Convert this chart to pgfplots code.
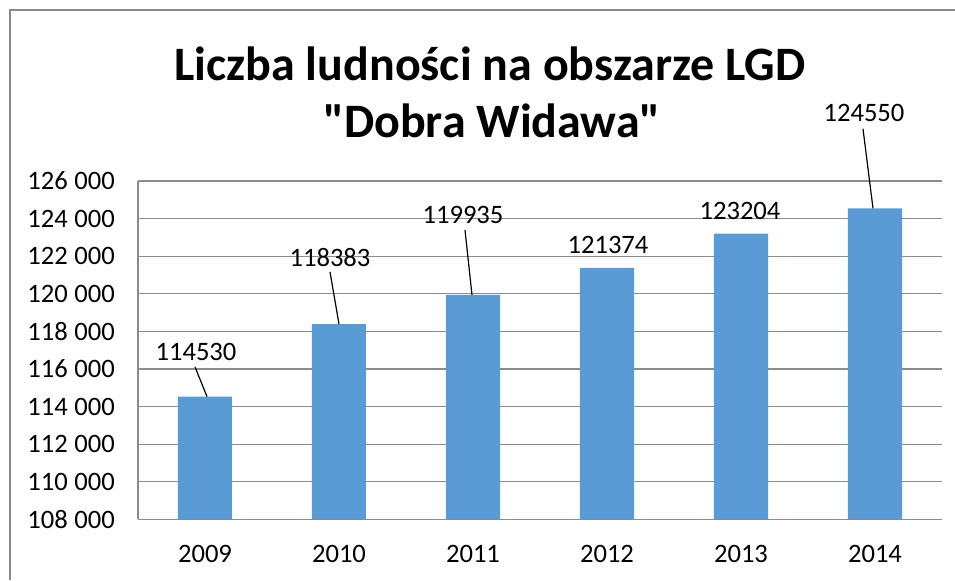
\documentclass[border=0pt]{standalone}
\usepackage{pgfplots}
\pgfplotsset{compat=1.18}
\usepackage{pgfplotstable}
\usepackage{fontspec}
\setmainfont{Carlito}
\definecolor{barblue}{HTML}{5B9BD5}
\definecolor{gridgray}{HTML}{8C8C8C}
\definecolor{framegray}{HTML}{8A8A8A}

\pgfplotstableread{
x y dx dy label
0 114530 -4.5 22.35 114530
1 118383 -4.5 33.15 118383
2 119935 -5.0 40.00 119935
3 121374 0.5 11.5 121374
4 123204 -0.5 11.5 123204
5 124550 -5.5 47.75 124550
}\datatable

\begin{document}
\begin{tikzpicture}
\useasboundingbox (0,0) rectangle (477.5pt,290pt);
\draw[framegray, line width=0.9pt] (5pt,0pt) -- (5pt,285pt) -- (477.5pt,285pt);
\node[anchor=base, font=\fontsize{24}{28}\selectfont\bfseries\addfontfeatures{Ligatures=TeXOff}] at (245pt,250pt) {Liczba ludności na obszarze LGD};
\node[anchor=base, font=\fontsize{24}{28}\selectfont\bfseries\addfontfeatures{Ligatures=TeXOff}] at (246pt,221.5pt) {"Dobra Widawa"};
\begin{axis}[
  at={(69pt,30.35pt)}, anchor=south west,
  scale only axis=true,
  width=402pt, height=169.15pt,
  xmin=-0.5, xmax=5.5,
  ymin=108000, ymax=126000,
  ytick distance=2000,
  xtick=data,
  xticklabels={2009,2010,2011,2012,2013,2014},
  axis x line*=bottom, axis y line*=left,
  axis line style={gridgray, line width=0.6pt, -},
  ymajorgrids=true,
  grid style={gridgray, line width=0.6pt},
  major tick length=0pt,
  scaled y ticks=false,
  /pgf/number format/.cd, fixed, 1000 sep={\hspace{0.25em}}, assume math mode=true,
  /pgfplots/.cd,
  tick label style={font=\fontsize{13.3}{15}\selectfont, text=black},
  yticklabel style={xshift=-8pt},
  xticklabel style={yshift=-9.5pt},
  clip=false,
  point meta=explicit symbolic,
  nodes near coords,
  visualization depends on={\thisrow{dx} \as \dx},
  visualization depends on={\thisrow{dy} \as \dy},
  every node near coord/.append style={anchor=center, xshift=\dx pt, yshift=\dy pt, font=\fontsize{13.3}{15}\selectfont, text=black},
]
\addplot[ybar, bar width=0.403, fill=barblue, draw=none] table[x=x, y=y, meta=label] {\datatable};
\draw[black, line width=0.6pt] ([shift={(-5pt,14.85pt)}]axis cs:0,114530) -- ([shift={(1pt,0pt)}]axis cs:0,114530);
\draw[black, line width=0.6pt] ([shift={(-4.5pt,26.15pt)}]axis cs:1,118383) -- ([shift={(0pt,0pt)}]axis cs:1,118383);
\draw[black, line width=0.6pt] ([shift={(-4pt,32.5pt)}]axis cs:2,119935) -- ([shift={(-0.5pt,0pt)}]axis cs:2,119935);
\draw[black, line width=0.6pt] ([shift={(-6pt,39.75pt)}]axis cs:5,124550) -- ([shift={(-1pt,0pt)}]axis cs:5,124550);
\end{axis}
\end{tikzpicture}
\end{document}
